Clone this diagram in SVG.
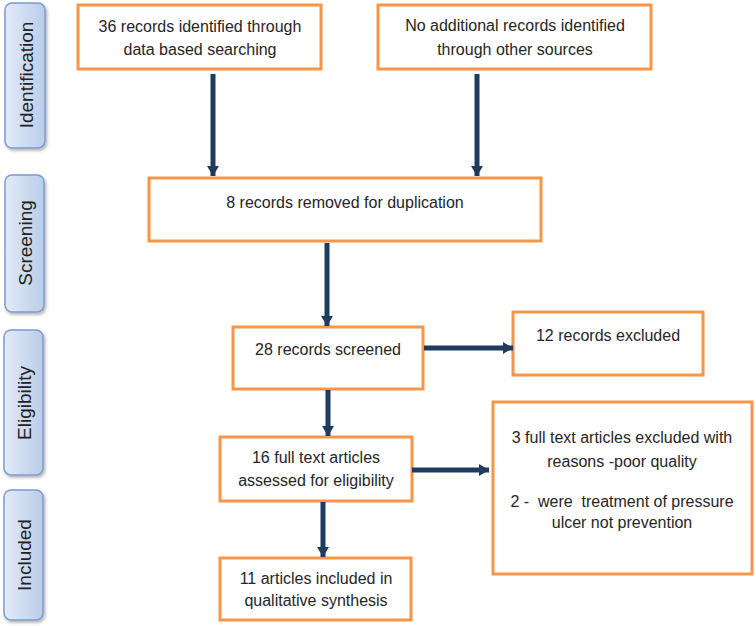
<svg xmlns="http://www.w3.org/2000/svg" width="756" height="626" viewBox="0 0 756 626">
  <defs>
    <linearGradient id="sideGrad" x1="0" y1="0" x2="1" y2="0">
      <stop offset="0" stop-color="#e3ebf7"/>
      <stop offset="1" stop-color="#b9cdea"/>
    </linearGradient>
    <filter id="shadow" x="-20%" y="-10%" width="150%" height="130%">
      <feDropShadow dx="1.5" dy="2" stdDeviation="1.5" flood-color="#000" flood-opacity="0.3"/>
    </filter>
    <marker id="arrow" markerUnits="userSpaceOnUse" markerWidth="14" markerHeight="14" viewBox="0 0 14 14" refX="12" refY="7" orient="auto">
      <path d="M2,1 L12,7 L2,13 Z" fill="#1f3b5e"/>
    </marker>
    <style>
      .side rect { fill: url(#sideGrad); stroke: #7c9cd0; stroke-width: 1.5; filter: url(#shadow); }
      .side text { font-family: "Liberation Sans", Arial, sans-serif; font-size: 19px; fill: #222; text-anchor: middle; dominant-baseline: central; }
      .box rect { fill: #fff; stroke: #f79646; stroke-width: 3; }
      .box text { font-family: "Liberation Sans", Arial, sans-serif; font-size: 16px; fill: #262626; text-anchor: middle; dominant-baseline: central; white-space: pre; }
      .conn line { stroke: #1f3b5e; stroke-width: 5; marker-end: url(#arrow); }
    </style>
  </defs>

  <g id="side-identification" class="side">
    <rect x="5" y="3" width="40" height="145" rx="7"/>
    <text transform="translate(26,75) rotate(-90)">Identification</text>
  </g>
  <g id="side-screening" class="side">
    <rect x="5" y="175" width="39" height="137" rx="7"/>
    <text transform="translate(25,243) rotate(-90)">Screening</text>
  </g>
  <g id="side-eligibility" class="side">
    <rect x="4" y="330" width="39" height="145" rx="7"/>
    <text transform="translate(24,403) rotate(-90)">Eligibility</text>
  </g>
  <g id="side-included" class="side">
    <rect x="4" y="490" width="39" height="130" rx="7"/>
    <text transform="translate(24,555) rotate(-90)">Included</text>
  </g>

  <g id="box-identified" class="box">
    <rect x="78" y="5" width="243" height="64"/>
    <text x="200" y="26">36 records identified through</text>
    <text x="200" y="49">data based searching</text>
  </g>
  <g id="box-other" class="box">
    <rect x="378" y="5" width="273" height="64"/>
    <text x="515" y="25">No additional records identified</text>
    <text x="515" y="49">through other sources</text>
  </g>
  <g id="box-duplicates" class="box">
    <rect x="149" y="178" width="392" height="63"/>
    <text x="345" y="202">8 records removed for duplication</text>
  </g>
  <g id="box-screened" class="box">
    <rect x="233" y="327" width="190" height="62"/>
    <text x="328" y="349">28 records screened</text>
  </g>
  <g id="box-excluded" class="box">
    <rect x="513" y="312" width="190" height="63"/>
    <text x="608" y="335">12 records excluded</text>
  </g>
  <g id="box-fulltext" class="box">
    <rect x="220" y="437" width="192" height="64"/>
    <text x="316" y="457">16 full text articles</text>
    <text x="316" y="480">assessed for eligibility</text>
  </g>
  <g id="box-fulltext-excluded" class="box">
    <rect x="493" y="402" width="259" height="172"/>
    <text x="622" y="437">3 full text articles excluded with</text>
    <text x="622" y="461">reasons -poor quality</text>
    <text x="622" y="501">2 -  were  treatment of pressure</text>
    <text x="622" y="522">ulcer not prevention</text>
  </g>
  <g id="box-included" class="box">
    <rect x="220" y="558" width="191" height="62"/>
    <text x="316" y="578">11 articles included in</text>
    <text x="316" y="600">qualitative synthesis</text>
  </g>

  <g id="connectors" class="conn">
    <line x1="213" y1="74" x2="213" y2="176"/>
    <line x1="477" y1="74" x2="477" y2="176"/>
    <line x1="327" y1="243" x2="327" y2="326"/>
    <line x1="424" y1="348" x2="513" y2="348"/>
    <line x1="328" y1="390" x2="328" y2="436"/>
    <line x1="412" y1="470" x2="489" y2="470"/>
    <line x1="323" y1="502" x2="323" y2="557"/>
  </g>
</svg>
